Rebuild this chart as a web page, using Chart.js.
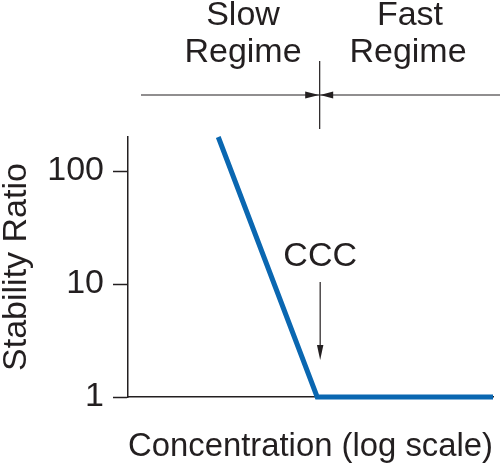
<!DOCTYPE html>
<html>
<head>
<meta charset="utf-8">
<script src="https://cdn.jsdelivr.net/npm/chart.js@4/dist/chart.umd.min.js"></script>
<style>
  body { margin: 0; background: #fff; }
  #wrap { width: 500px; height: 467px; position: relative; }
</style>
</head>
<body>
<div id="wrap"><canvas id="stability-chart"></canvas></div>
<script>
// Dados do gráfico (concentração em unidades arbitrárias, escala log)
const concentration = [0.3, 1, 8.5];
const stabilityRatio = [200, 1, 1];
const yTicks = [1, 10, 100];
const cccValue = 1;
const regimeLabels = [['Slow', 'Regime'], ['Fast', 'Regime']];

const FONT = 'Liberation Sans, Arial, Helvetica, sans-serif';
const INK = '#231f20';

function arrowHead(ctx, x, y, dx, dy, len, half) {
    // ponta em (x, y), direção (dx, dy)
    ctx.beginPath();
    ctx.moveTo(x, y);
    ctx.lineTo(x - dx * len - dy * half, y - dy * len + dx * half);
    ctx.lineTo(x - dx * len + dy * half, y - dy * len - dx * half);
    ctx.closePath();
    ctx.fill();
}

// Anotações: regimes, setas e CCC
const annotations = {
    id: 'annotations',
    afterDraw(chart) {
        const ctx = chart.ctx;
        const xs = chart.scales.x;
        const xc = xs.getPixelForValue(cccValue);
        ctx.save();
        ctx.strokeStyle = INK;
        ctx.fillStyle = INK;
        ctx.lineWidth = 1.2;

        // linha horizontal e divisória
        ctx.beginPath();
        ctx.moveTo(141, 95);
        ctx.lineTo(500, 95);
        ctx.moveTo(xc + 2.5, 61);
        ctx.lineTo(xc + 2.5, 129);
        ctx.stroke();
        arrowHead(ctx, xc + 2, 95, 1, 0, 14, 3.5);
        arrowHead(ctx, xc + 3, 95, -1, 0, 13, 3.5);

        // textos dos regimes
        ctx.font = '34px ' + FONT;
        ctx.textAlign = 'center';
        ctx.textBaseline = 'alphabetic';
        ctx.fillText(regimeLabels[0][0], 243, 25);
        ctx.fillText(regimeLabels[0][1], 243, 62);
        ctx.fillText(regimeLabels[1][0], 410, 25);
        ctx.fillText(regimeLabels[1][1], 408, 62);

        // CCC e seta
        ctx.fillText('CCC', xc + 3, 266);
        ctx.beginPath();
        ctx.moveTo(xc + 3, 282);
        ctx.lineTo(xc + 3, 348);
        ctx.stroke();
        arrowHead(ctx, xc + 3, 360, 0, 1, 15, 3.2);
        ctx.restore();
    }
};

const ctx = document.getElementById('stability-chart');
new Chart(ctx.getContext('2d'), {
    type: 'line',
    data: {
        datasets: [{
            data: concentration.map((c, i) => ({ x: c, y: stabilityRatio[i] })),
            borderColor: '#0a67b1',
            borderWidth: 5,
            borderJoinStyle: 'miter',
            pointRadius: 0,
            tension: 0,
            fill: false,
            clip: false
        }]
    },
    options: {
        responsive: true,
        maintainAspectRatio: false,
        animation: false,
        layout: { padding: { top: 137, right: 7, bottom: 0, left: 0 } },
        plugins: {
            legend: { display: false },
            tooltip: { enabled: false }
        },
        scales: {
            x: {
                type: 'logarithmic',
                min: 0.1,
                max: 8.5,
                ticks: { display: false },
                grid: { drawOnChartArea: false, drawTicks: false, color: 'rgba(0,0,0,0)' },
                border: { display: true, color: INK, width: 1.5 },
                title: {
                    display: true,
                    text: 'Concentration (log scale)',
                    color: INK,
                    font: { family: FONT, size: 34, lineHeight: 1 },
                    padding: { top: 0, bottom: 3 }
                },
                afterFit(scale) { scale.height = 70; }
            },
            y: {
                type: 'logarithmic',
                min: 1,
                max: 200,
                afterBuildTicks(scale) {
                    scale.ticks = yTicks.map(v => ({ value: v }));
                },
                ticks: {
                    color: INK,
                    padding: 9,
                    font: { family: FONT, size: 34 },
                    callback: (v) => String(v)
                },
                grid: {
                    drawOnChartArea: false,
                    drawTicks: true,
                    tickLength: 15,
                    tickColor: INK,
                    tickWidth: 1.5
                },
                border: { display: true, color: INK, width: 1.5 },
                title: {
                    display: true,
                    text: 'Stability Ratio',
                    color: INK,
                    font: { family: FONT, size: 34, lineHeight: 1 },
                    padding: { top: 0, bottom: 0 }
                },
                afterFit(scale) { scale.width = 128; }
            }
        }
    },
    plugins: [annotations]
});
</script>
</body>
</html>
